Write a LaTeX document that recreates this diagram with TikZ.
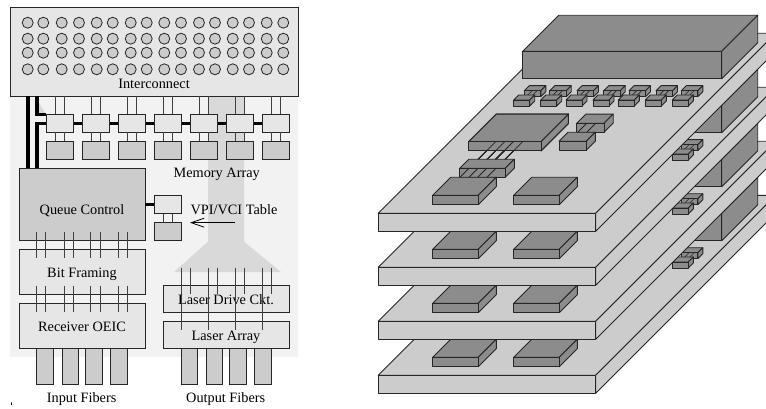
\documentclass[tikz,border=0pt]{standalone}
\usepackage{fontspec}
\setmainfont{Liberation Serif}
\usetikzlibrary{arrows.meta}
\definecolor{lightbg}{HTML}{F2F2F2}
\definecolor{band}{HTML}{D9D9D9}
\definecolor{pale}{HTML}{E6E6E6}
\definecolor{mid}{HTML}{CCCCCC}
\definecolor{chipgray}{HTML}{8C8C8C}
\definecolor{wirec}{HTML}{404040}
\newcommand{\chipbox}[5]{%
  \filldraw[chipst] (#1,#2) -- ({#1+#5},{#2-#5}) -- ({#1+#3+#5},{#2-#5}) -- ({#1+#3},#2) -- cycle;
  \filldraw[chipst] ({#1+#3},#2) -- ({#1+#3+#5},{#2-#5}) -- ({#1+#3+#5},{#2+#4-#5}) -- ({#1+#3},{#2+#4}) -- cycle;
  \filldraw[chipst] (#1,#2) rectangle ({#1+#3},{#2+#4});
}
\newcommand{\labbox}[7]{%
  \node[#6, minimum width={(#4-#2)*1pt}, minimum height={(#5-#3)*1pt}] (#1) at ({(#2+#4)/2},{(#3+#5)/2}) {#7};
}
\tikzset{
  basebox/.style={draw=black!85, line width=0.9pt, inner sep=0pt, outer sep=0pt},
  palebox/.style={basebox, fill=pale},
  midbox/.style={basebox, fill=mid},
  wire/.style={draw=wirec, line width=0.8pt},
  thick bus/.style={draw=black, line width=3.2pt},
  chipst/.style={fill=chipgray, draw=black!85, line width=0.9pt, line join=round},
  boardst/.style={fill=mid, draw=black!85, line width=0.9pt, line join=round},
  lab/.style={inner sep=0pt, anchor=base, font=\fontsize{14.3}{16}\selectfont},
}
\begin{document}
\begin{tikzpicture}[x=1pt,y=-1pt]
\useasboundingbox (0,0) rectangle (766,409);
% ---- left: backgrounds
\fill[lightbg] (10,96) rectangle (298,357);
\fill[band] (208,96) -- (244,96) -- (244,241.7) -- (281,272) -- (174,272) -- (208,241.7) -- cycle;
\fill[band] (39,103) -- (46,114.3) -- (39,114.3) -- cycle;
% interconnect
\labbox{ic}{10}{7}{298}{96}{palebox}{}
\node[lab] (iclab) at (154,88.5) {Interconnect};
\node[lab] (filab) at (81.6,402.4) {Input Fibers};
\node[lab] (folab) at (225.7,402.4) {Output Fibers};
\foreach \y [count=\r] in {22.7,38.7,52.7,69.3}
  \foreach \x [count=\c] in {27.7,43.3,61.7,79,96.7,112.7,130.7,146.7,164.3,181,199,215,232.7,249,266.7,283.3}
    \node[draw=black!85, fill=mid, circle, line width=0.8pt, minimum size=11pt, inner sep=0pt] (c\r-\c) at (\x,\y) {};
% queue etc
\labbox{queue}{19}{168.3}{145}{240.7}{midbox}{}
\node[lab] (qlab) at (82,214) {Queue Control};
\labbox{vpi}{154}{195.7}{181}{213.7}{palebox}{}
\labbox{vpid}{154}{222.7}{181}{240.7}{midbox}{}
\draw[thick bus] (queue.east |- vpi.west) -- (vpi.west);
\draw[wire] ([xshift=9pt]vpi.south west) -- ([xshift=9pt]vpid.north west);
\draw[wire] ([xshift=18pt]vpi.south west) -- ([xshift=18pt]vpid.north west);
% bus lines to the memory row
\coordinate (bus1) at (37,114.3);
\coordinate (bus2) at (37,123.3);
\draw[thick bus] (28,96) -- (28,168.3);
\draw[thick bus] (37,96) -- (bus1) -- (46,114.3);
\draw[thick bus] (37,168.3) -- (bus2) -- (46,123.3);
\draw[thick bus] (46,123.3) -- (289,123.3);
% memory array
\foreach \i/\x in {1/46,2/82,3/118,4/154,5/190,6/226,7/262}{
  \labbox{m\i}{\x}{114.3}{\x+27}{132.3}{palebox}{}
  \labbox{d\i}{\x}{141.3}{\x+27}{159.3}{midbox}{}
  \draw[wire] ([xshift=9pt]m\i.north west |- ic.south) -- ([xshift=9pt]m\i.north west);
  \draw[wire] ([xshift=18pt]m\i.north west |- ic.south) -- ([xshift=18pt]m\i.north west);
  \draw[wire] ([xshift=9pt]m\i.south west) -- ([xshift=9pt]d\i.north west);
  \draw[wire] ([xshift=18pt]m\i.south west) -- ([xshift=18pt]d\i.north west);
}
\node[lab] (malab) at (216.7,177.7) {Memory Array};
\node[lab] (vlab) at (234,214) {VPI/VCI Table};
\coordinate (atail) at (235,222.7);
\coordinate (ahead) at (190,222.7);
\draw[-{Straight Barb[length=13pt,width=9pt]}, line width=0.8pt] (atail) -- (ahead);
% framing
\labbox{bit}{19}{249.7}{145}{294.3}{palebox}{}
\node[lab] (blab) at (82,277) {Bit Framing};
\labbox{rx}{19}{303.3}{145}{348.3}{palebox}{}
\node[lab] (rlab) at (82,331) {Receiver OEIC};
\foreach \d in {17.7,26.7,45,54,71.7,81,99,108}{
  \draw[wire] ([shift={(\d,-9)}]queue.south west) -- ([shift={(\d,8.6)}]bit.north west);
  \draw[wire] ([shift={(\d,-8.6)}]bit.south west) -- ([shift={(\d,9)}]rx.north west);
}
% laser
\labbox{ld}{163}{285.7}{289}{312.7}{palebox}{}
\node[lab] (ldlab) at (226,304) {Laser Drive Ckt.};
\labbox{la}{163}{321.3}{289}{348.3}{palebox}{}
\node[lab] (lalab) at (226,340) {Laser Array};
\foreach \d in {18,45,72,99}
  \draw[wire] ([shift={(\d,-18)}]ld.north west) -- ([shift={(\d,8.7)}]la.north west);
\foreach \d in {27,54,81,108}
  \draw[wire] ([shift={(\d,-18)}]ld.north west) -- ([shift={(\d,8.6)}]ld.north west);
% fibers
\foreach \i/\a/\b in {1/36.7/53.3,2/62/78.7,3/85.3/102,4/110.7/127.3}
  \labbox{fi\i}{\a}{348.3}{\b}{384.3}{midbox}{}
\foreach \i/\a/\b in {1/181/197.7,2/206/222.7,3/229.3/246,4/254.7/271.3}
  \labbox{fo\i}{\a}{348.3}{\b}{384.3}{midbox}{}
\draw[line width=0.7pt] (11.7,402.5) -- (11.7,405);
% ---- right: stacked boards
\begin{scope}
\clip (360,0) rectangle (766,409);
\foreach \k in {162,108,54,0}{
\begin{scope}[yshift={-\k pt}]
  % board
  \filldraw[boardst] (378.3,213.3) -- (558.3,33.3) -- (775.7,33.3) -- (595.7,213.3) -- cycle;
  \filldraw[boardst] (595.7,213.3) -- (775.7,33.3) -- (775.7,51.3) -- (595.7,231.3) -- cycle;
  \filldraw[boardst] (378.3,213.3) rectangle (595.7,231.3);
  % big block
  \chipbox{522.7}{51.3}{199}{27.4}{36}
  % small chip pairs
  \foreach \x in {524.3,549.7,577,603.7,629,656,681.3}{
    \chipbox{\x}{90.7}{16.5}{6}{5}
    \draw[line width=0.6pt,black!85] ({\x+7.7},90.7) -- ({\x+1.7},96.7);
    \draw[line width=0.6pt,black!85] ({\x+12.7},90.7) -- ({\x+6.7},96.7);
  }
  \foreach \x in {513.7,540.7,566,593,618.3,645.3,672.3}
    \chipbox{\x}{100}{16}{6}{5}
  % big chip
  \chipbox{468.7}{141.7}{72.3}{9}{27.4}
  \foreach \x in {495.7,504.7,513.3,522.7}
    \draw[line width=0.8pt,black!85] (\x,141.7) -- ({\x-18},159.7);
  % striped chip
  \chipbox{459.7}{168.3}{45.6}{9}{9}
  \foreach \x in {469,478,486.7,496}
    \draw[line width=0.8pt,black!85] (\x,168.3) -- ({\x-9},177.3);
  % medium chips
  \chipbox{576.7}{123.3}{27.3}{9}{9.2}
  \foreach \x in {586.7,595.7}
    \draw[line width=0.8pt,black!85] (\x,123.3) -- ({\x-9},132.3);
  \chipbox{559}{141.3}{27.3}{9}{9}
  % lower chips
  \chipbox{432.7}{195.3}{45.6}{9.4}{18}
  \chipbox{513.7}{195.3}{45.6}{9.4}{18}
\end{scope}}
\end{scope}
\end{tikzpicture}
\end{document}
